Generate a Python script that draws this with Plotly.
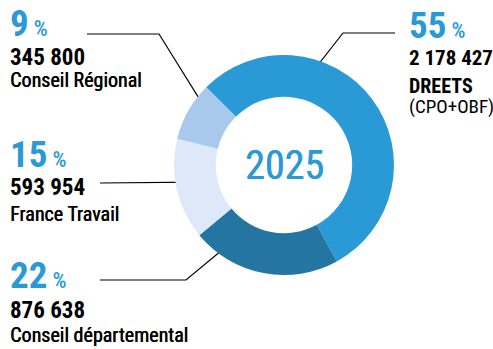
import math
import plotly.graph_objects as go

# data
labels = ["DREETS", "Conseil départemental", "France Travail", "Conseil Régional"]
values = [2178427, 876638, 593954, 345800]
pct_labels = ["55", "22", "15", "9"]
amount_labels = ["2 178 427", "876 638", "593 954", "345 800"]
year = "2025"

colors = ["#2a9ad7", "#2475a2", "#dde9f8", "#a8c9eb"]
blue = "#2a9ad7"
FONT = "Roboto Condensed, sans-serif"

W, H = 493, 349
cx, cy, R = 284, 165, 110

fig = go.Figure()
fig.add_trace(go.Pie(
    labels=labels, values=values, hole=0.62, sort=False,
    direction="clockwise", rotation=-45,
    marker=dict(colors=colors, line=dict(width=0)),
    textinfo="none", hoverinfo="label+value+percent", showlegend=False,
    domain=dict(x=[(cx - R) / W, (cx + R) / W],
                y=[(H - cy - R) / H, (H - cy + R) / H]),
))

# leader lines: dot angle (clockwise from top) and radius on the ring, then path
def ring(angle, r):
    a = math.radians(angle)
    return cx + r * math.sin(a), cy - r * math.cos(a)

leaders = [
    (16, 93, [(395, 33), (343, 33)]),
    (213, 87, [(100, 280), (186, 280)]),
    (259, 90, [(100, 183)]),
    (303, 87, [(87, 34), (159, 34)]),
]
for ang, r, path in leaders:
    dx, dy = ring(ang, r)
    xs = [p[0] for p in path] + [dx]
    ys = [p[1] for p in path] + [dy]
    fig.add_trace(go.Scatter(x=xs, y=ys, mode="lines", line=dict(color="black", width=1.2),
                             hoverinfo="skip", showlegend=False))
    fig.add_trace(go.Scatter(x=[dx], y=[dy], mode="markers",
                             marker=dict(size=7, color="white", line=dict(color="black", width=2)),
                             hoverinfo="skip", showlegend=False))

# text blocks: (x, y of percent, y of amount, amount size, [(name, y, size, weight)])
blocks = [
    (407, 25, 58, 21, [("DREETS", 85.5, 20, 700), ("(CPO+OBF)", 106, 19, 400)]),
    (8, 275.5, 310, 23, [("Conseil départemental", 334.5, 20, 400)]),
    (8, 154.5, 187, 23, [("France Travail", 213.5, 20, 400)]),
    (8, 23.5, 57, 23, [("Conseil Régional", 79.5, 20, 400)]),
]
ann = []
for i, (x, yp, ya, asz, names) in enumerate(blocks):
    ann.append(dict(x=x, y=yp, text="%s<span style='font-size:22px;font-weight:500'> %%</span>" % pct_labels[i],
                    font=dict(size=37, color=blue, family=FONT, weight=700)))
    ann.append(dict(x=x, y=ya, text=amount_labels[i],
                    font=dict(size=asz, color="black", family=FONT, weight=700)))
    for t, yy, fs, wt in names:
        ann.append(dict(x=x, y=yy, text=t,
                        font=dict(size=fs, color="black", family=FONT, weight=wt,
                                  shadow="0.5px 0 0 black" if wt == 400 and t[0] != "(" else "none")))
for a in ann:
    a.update(xref="x", yref="y", xanchor="left", yanchor="middle", showarrow=False)
ann.append(dict(x=cx, y=cy, xref="x", yref="y", text=year, showarrow=False,
                font=dict(size=40, color=blue, family=FONT, weight=400, shadow="0.5px 0 0 " + blue)))

fig.update_layout(
    width=W, height=H, margin=dict(l=0, r=0, t=0, b=0),
    paper_bgcolor="white", plot_bgcolor="white",
    xaxis=dict(range=[0, W], visible=False, fixedrange=True),
    yaxis=dict(range=[H, 0], visible=False, fixedrange=True),
    annotations=ann,
)

fig.write_html("out.html", config={"displayModeBar": False},
               post_script="document.body.style.margin='0';")
